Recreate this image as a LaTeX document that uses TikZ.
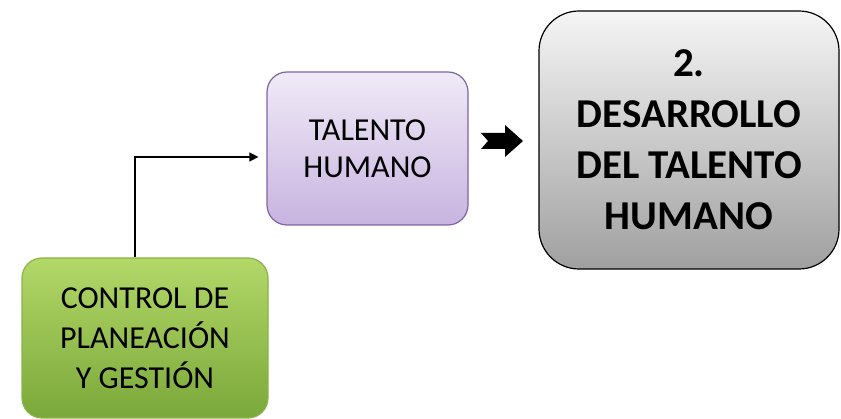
\documentclass[tikz,border=0pt]{standalone}
\usepackage{fontspec}
\setmainfont{Carlito}
\usetikzlibrary{arrows.meta}
\definecolor{gtop}{HTML}{B2D868}
\definecolor{gbot}{HTML}{7BA83A}
\definecolor{gline}{HTML}{8CB24A}
\definecolor{ptop}{HTML}{F0EAF7}
\definecolor{pbot}{HTML}{C8B4E0}
\definecolor{pline}{HTML}{8064A2}
\definecolor{stop}{HTML}{F5F5F5}
\definecolor{sbot}{HTML}{A0A0A0}
\tikzset{
  boxbase/.style={rounded corners=20pt, align=center, inner sep=0pt},
  greenbox/.style={boxbase, draw=gline, line width=1.2pt, top color=gtop, bottom color=gbot,
     minimum width=246pt, minimum height=160pt, font=\fontsize{32}{40}\selectfont},
  purplebox/.style={boxbase, draw=pline, line width=1.2pt, top color=ptop, bottom color=pbot,
     minimum width=201pt, minimum height=153pt, font=\fontsize{32}{37}\selectfont},
  graybox/.style={boxbase, rounded corners=40pt, draw=black, line width=1.2pt, top color=stop, bottom color=sbot,
     minimum width=300pt, minimum height=258pt, font=\fontsize{41}{51}\selectfont\bfseries},
  conn/.style={line width=1.3pt, -{Triangle[length=9pt,width=9pt]}}
}
\begin{document}
\begin{tikzpicture}[x=1pt,y=-1pt]
\useasboundingbox (0,0) rectangle (841,419);
\node[greenbox] (ctrl) at (145,338) {CONTROL DE\\PLANEACIÓN\\Y GESTIÓN};
\node[purplebox] (tal) at (367.5,148.5) {TALENTO\\HUMANO};
\node[graybox] (des) at (689,140) {2.\\DESARROLLO\\DEL TALENTO\\HUMANO};
\draw[conn] ([xshift=-10pt]ctrl.north) |- ([xshift=-8pt,yshift=-8.5pt]tal.west);
\fill[black] (481,133) -- (505,133) -- (505,125) -- (523,141) -- (505,157) -- (505,149) -- (481,149) -- (488,141) -- cycle;
\end{tikzpicture}
\end{document}
